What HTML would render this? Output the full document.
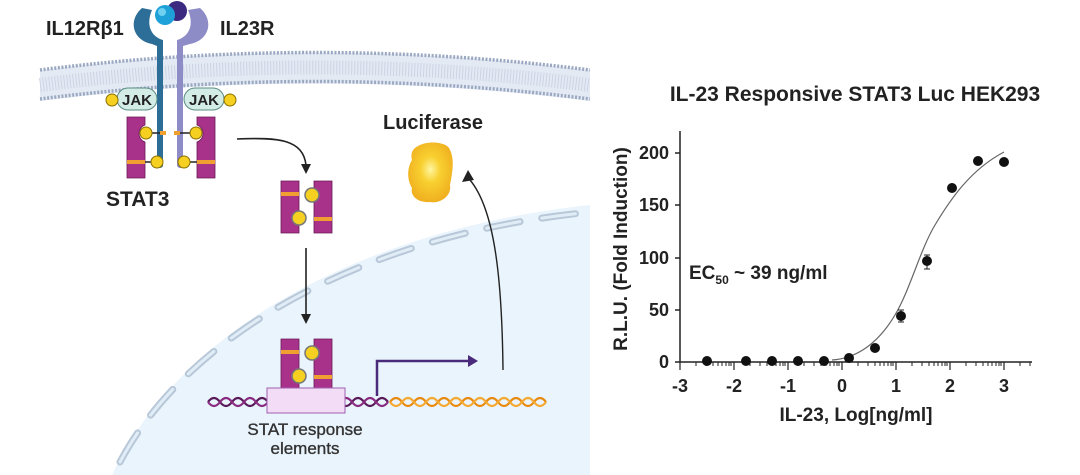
<!DOCTYPE html>
<html><head><meta charset="utf-8"><style>
html,body{margin:0;padding:0;background:#fff;}
svg{display:block;font-family:"Liberation Sans",sans-serif;}
</style></head><body>
<svg width="1080" height="475" viewBox="0 0 1080 475" xmlns="http://www.w3.org/2000/svg">
<defs>
<radialGradient id="luc" cx="50%" cy="45%" r="55%"><stop offset="0" stop-color="#fff6a0"/><stop offset="0.4" stop-color="#f8d030"/><stop offset="1" stop-color="#f0b020"/></radialGradient>
</defs>
<!-- nucleus -->
<path d="M112,475 C180,330 360,230 590,205 L590,475 Z" fill="#eaf4fc"/>
<path d="M120,462 C190,330 370,235 582,213" fill="none" stroke="#b8c8d8" stroke-width="7" stroke-linecap="round" stroke-dasharray="34 22"/>
<path d="M120,462 C190,330 370,235 582,213" fill="none" stroke="#e0ecf6" stroke-width="3" stroke-linecap="round" stroke-dasharray="34 22"/>
<!-- membrane -->
<path d="M40,70 Q315,35 590,70 L590,101 Q315,66 40,101 Z" fill="#e4eaf4"/>
<path d="M40,70 Q315,35 590,70" fill="none" stroke="#9aa8c2" stroke-width="3.5" stroke-dasharray="2 1.6"/>
<path d="M40,99 Q315,64 590,99" fill="none" stroke="#9aa8c2" stroke-width="3.5" stroke-dasharray="2 1.6"/>
<path d="M40,85 Q315,50 590,85" fill="none" stroke="#ccd4e4" stroke-width="14" stroke-dasharray="1 2"/>
<!-- labels -->
<text x="46" y="35" font-size="20" font-weight="bold" fill="#222">IL12Rβ1</text>
<text x="220" y="35" font-size="20" font-weight="bold" fill="#222">IL23R</text>
<!-- receptors -->
<path d="M142,8 C128,20 132,40 152,44 L157,46 L157,166 Q160,170 163,166 L163,40 C150,36 146,24 152,10 Z" fill="#2d6e98"/>
<path d="M200,8 C214,20 210,40 190,44 L183,46 L183,166 Q180,170 177,166 L177,40 C190,36 194,24 188,10 Z" fill="#8e8cc6"/>
<circle cx="177" cy="11" r="10" fill="#3b2a80"/>
<circle cx="165" cy="15" r="10" fill="#1ea0d8"/>
<circle cx="162" cy="12" r="4" fill="#6fd0f0"/>
<!-- JAKs -->
<rect x="117" y="88" width="40" height="22" rx="11" fill="#d4ece6" stroke="#5a8c84" stroke-width="1"/>
<text x="137" y="105" font-size="15" font-weight="bold" text-anchor="middle" fill="#222">JAK</text>
<rect x="184" y="88" width="40" height="22" rx="11" fill="#d4ece6" stroke="#5a8c84" stroke-width="1"/>
<text x="204" y="105" font-size="15" font-weight="bold" text-anchor="middle" fill="#222">JAK</text>
<g fill="#f5d020" stroke="#8a7000" stroke-width="1">
<circle cx="112" cy="100" r="6"/><circle cx="230" cy="100" r="6"/>
</g>
<!-- STAT blocks on receptors -->
<g fill="#a8328a" stroke="#6a1a56" stroke-width="0.8">
<path d="M127,117 H145 V125 A9,9 0 0 0 145,142 V178 H127 Z"/>
<path d="M215,117 H197 V125 A9,9 0 0 1 197,142 V178 H215 Z"/>
</g>
<rect x="127" y="160" width="18" height="4" fill="#f0a030"/><rect x="197" y="160" width="18" height="4" fill="#f0a030"/>
<rect x="160" y="131" width="6" height="4" fill="#f0a030"/><rect x="174" y="131" width="6" height="4" fill="#f0a030"/>
<g stroke="#222" stroke-width="1.5"><line x1="146" y1="133" x2="160" y2="133"/><line x1="180" y1="133" x2="196" y2="133"/><line x1="145" y1="162" x2="158" y2="162"/><line x1="184" y1="162" x2="197" y2="162"/></g>
<g fill="#f5d020" stroke="#8a7000" stroke-width="1">
<circle cx="146" cy="133" r="6"/><circle cx="196" cy="133" r="6"/><circle cx="157" cy="162" r="6"/><circle cx="184" cy="162" r="6"/>
</g>
<text x="106" y="206" font-size="21" font-weight="bold" fill="#222">STAT3</text>
<!-- arrow 1 -->
<path d="M237,139 C280,137 303,140 306,165" fill="none" stroke="#222" stroke-width="1.6"/>
<path d="M301,164 L311,164 L306,174 Z" fill="#222"/>
<!-- dimer 1 -->
<g id="dimer">
<path d="M281,181 H299 V233 H281 Z" fill="#a8328a" stroke="#6a1a56" stroke-width="0.8"/>
<path d="M314,181 H332 V233 H314 Z" fill="#a8328a" stroke="#6a1a56" stroke-width="0.8"/>
<rect x="281" y="192" width="18" height="4" fill="#f0a030"/><rect x="314" y="217" width="18" height="4" fill="#f0a030"/>
<circle cx="312" cy="195" r="7" fill="#f5d020" stroke="#777" stroke-width="1.5"/>
<circle cx="299" cy="218" r="7" fill="#f5d020" stroke="#777" stroke-width="1.5"/>
</g>
<!-- arrow 2 -->
<line x1="306" y1="248" x2="306" y2="316" stroke="#222" stroke-width="1.6"/>
<path d="M301,314 L311,314 L306,324 Z" fill="#222"/>
<use href="#dimer" y="158"/>
<!-- DNA -->
<g fill="none" stroke-width="2.2">
<path d="M208,402 q6,-8 12,0 t12,0 t12,0 t12,0 t12,0 t12,0 t12,0 t12,0 t12,0 t12,0 t12,0 t12,0 t12,0 t12,0 t12,0" stroke="#5a1a5a"/>
<path d="M208,402 q6,8 12,0 t12,0 t12,0 t12,0 t12,0 t12,0 t12,0 t12,0 t12,0 t12,0 t12,0 t12,0 t12,0 t12,0 t12,0" stroke="#8a2a80"/>
<path d="M390,402 q6,-8 12,0 t12,0 t12,0 t12,0 t12,0 t12,0 t12,0 t12,0 t12,0 t12,0 t12,0 t12,0 t12,0" stroke="#e88a10"/>
<path d="M390,402 q6,8 12,0 t12,0 t12,0 t12,0 t12,0 t12,0 t12,0 t12,0 t12,0 t12,0 t12,0 t12,0 t12,0" stroke="#f5a830"/>
</g>
<rect x="267" y="388" width="78" height="25" fill="#f2dcf6" stroke="#a060b0" stroke-width="1"/>
<!-- promoter arrow -->
<path d="M377,396 V361 H470" fill="none" stroke="#4a2a7a" stroke-width="2.5"/>
<path d="M468,355 L478,361 L468,367 Z" fill="#4a2a7a"/>
<g font-size="17" text-anchor="middle" fill="#333" stroke="#333" stroke-width="0.35">
<text x="305" y="435">STAT response</text>
<text x="305" y="454">elements</text>
</g>
<!-- up arrow -->
<path d="M503,370 C502,280 495,210 470,180" fill="none" stroke="#222" stroke-width="1.4"/>
<path d="M462,182 L468,170 L474,180 Z" fill="#222"/>
<!-- luciferase -->
<text x="383" y="129" font-size="20" font-weight="bold" fill="#222">Luciferase</text>
<path d="M418,146 C428,140 448,142 450,150 C455,160 452,175 450,185 C452,196 440,204 430,202 C418,203 410,196 412,188 C406,178 408,166 412,160 C410,152 414,148 418,146 Z" fill="url(#luc)"/>
<!-- chart -->
<text x="855" y="101" font-size="21" font-weight="bold" text-anchor="middle" fill="#222">IL-23 Responsive STAT3 Luc HEK293</text>
<g stroke="#222" stroke-width="1.5">
<line x1="680" y1="131" x2="680" y2="362"/>
<line x1="680" y1="362" x2="1032" y2="362"/>
<line x1="675" y1="153" x2="680" y2="153"/><line x1="675" y1="205" x2="680" y2="205"/><line x1="675" y1="258" x2="680" y2="258"/><line x1="675" y1="310" x2="680" y2="310"/><line x1="675" y1="362" x2="680" y2="362"/>
</g>
<g stroke="#222" stroke-width="1.2">
<line x1="680" y1="362" x2="680" y2="370"/><line x1="734" y1="362" x2="734" y2="370"/><line x1="788" y1="362" x2="788" y2="370"/><line x1="842" y1="362" x2="842" y2="370"/><line x1="896" y1="362" x2="896" y2="370"/><line x1="950" y1="362" x2="950" y2="370"/><line x1="1004" y1="362" x2="1004" y2="370"/>
</g>
<g stroke="#222" stroke-width="1">
<path d="M696,362v4M706,362v4M713,362v4M718,362v4M722,362v4M726,362v4M729,362v4M731,362v4
M750,362v4M760,362v4M767,362v4M772,362v4M776,362v4M780,362v4M783,362v4M785,362v4
M804,362v4M814,362v4M821,362v4M826,362v4M830,362v4M834,362v4M837,362v4M839,362v4
M858,362v4M868,362v4M875,362v4M880,362v4M884,362v4M888,362v4M891,362v4M893,362v4
M912,362v4M922,362v4M929,362v4M934,362v4M938,362v4M942,362v4M945,362v4M947,362v4
M966,362v4M976,362v4M983,362v4M988,362v4M992,362v4M996,362v4M999,362v4M1001,362v4
M1020,362v4M1030,362v4"/>
</g>
<g font-size="18" font-weight="bold" fill="#222" text-anchor="end">
<text x="669" y="159">200</text><text x="669" y="211">150</text><text x="669" y="264">100</text><text x="669" y="316">50</text><text x="669" y="368">0</text>
</g>
<g font-size="18" font-weight="bold" fill="#222" text-anchor="middle">
<text x="680" y="392">-3</text><text x="734" y="392">-2</text><text x="788" y="392">-1</text><text x="842" y="392">0</text><text x="896" y="392">1</text><text x="950" y="392">2</text><text x="1004" y="392">3</text>
</g>
<text x="856" y="421" font-size="19" font-weight="bold" fill="#222" text-anchor="middle">IL-23, Log[ng/ml]</text>
<text transform="translate(627,249) rotate(-90)" font-size="19" font-weight="bold" fill="#222" text-anchor="middle">R.L.U. (Fold Induction)</text>
<text x="689" y="279" font-size="19" font-weight="bold" fill="#222">EC<tspan font-size="12" dy="5">50</tspan><tspan dy="-5"> ~ 39 ng/ml</tspan></text>
<path d="M832,360 C860,358 880,340 895,315 C910,290 920,250 935,225 C950,200 970,170 1004,152" fill="none" stroke="#666" stroke-width="1.2"/>
<g stroke="#222" stroke-width="1"><path d="M901,310v12M898,310h6M898,322h6M927,255v14M924,255h6M924,269h6"/></g>
<g fill="#111">
<circle cx="707" cy="361" r="5"/><circle cx="746" cy="361" r="5"/><circle cx="772" cy="361" r="5"/><circle cx="798" cy="361" r="5"/><circle cx="824" cy="361" r="5"/><circle cx="849" cy="358" r="5"/><circle cx="875" cy="348" r="5"/><circle cx="901" cy="316" r="5"/><circle cx="927" cy="261" r="5"/><circle cx="952" cy="188" r="5"/><circle cx="978" cy="161" r="5"/><circle cx="1004" cy="162" r="5"/>
</g>
</svg>
</body></html>
